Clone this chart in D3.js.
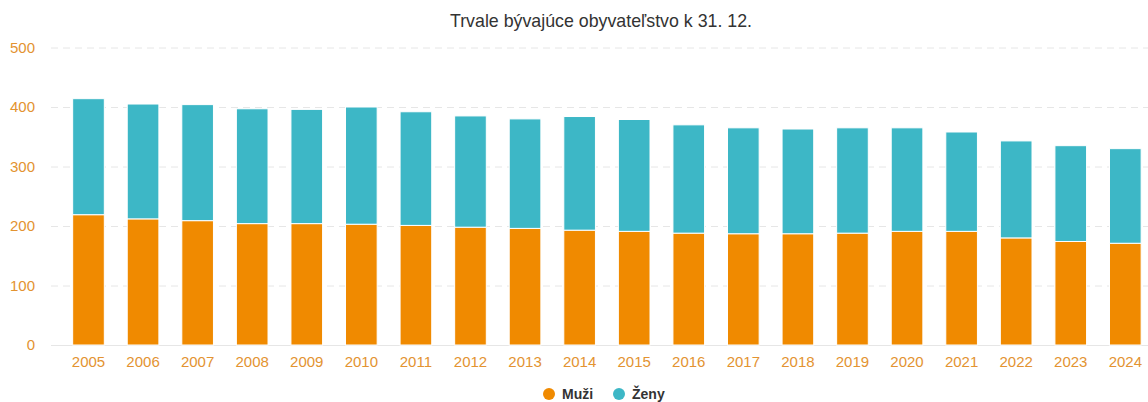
<!DOCTYPE html>
<html>
<head>
<meta charset="utf-8">
<script src="https://cdn.jsdelivr.net/npm/d3@7"></script>
<style>
  body { margin: 0; background: #fff; }
  svg { font-family: "Liberation Sans", Arial, sans-serif; }
</style>
</head>
<body>
<div id="chart-container"></div>
<script>
var years = ["2005", "2006", "2007", "2008", "2009", "2010", "2011", "2012", "2013", "2014",
             "2015", "2016", "2017", "2018", "2019", "2020", "2021", "2022", "2023", "2024"];
var muzi = [219, 212, 209, 204, 204, 203, 201, 198, 196, 193, 191, 188, 187, 187, 188, 191, 191, 180, 174, 171];
var zeny = [195, 193, 195, 193, 192, 197, 191, 187, 184, 191, 188, 182, 178, 176, 177, 174, 167, 163, 161, 159];
var yTicks = [0, 100, 200, 300, 400, 500];
var seriesNames = ["Muži", "Ženy"];
var colors = ["#f08a00", "#3db7c6"];

var width = 1148, height = 402;
var svg = d3.select("#chart-container").append("svg")
    .attr("width", width)
    .attr("height", height);

var y = d3.scaleLinear().domain([0, 500]).range([345, 47.5]);
var x = d3.scaleBand().domain(years).range([61.2, 1152.6]).paddingInner(0.42).paddingOuter(0.21);

// title
svg.append("text")
  .attr("x", 601)
  .attr("y", 27)
  .attr("text-anchor", "middle")
  .attr("fill", "#333")
  .style("font-size", "17.8px")
  .text("Trvale bývajúce obyvateľstvo k 31. 12.");

// grid
var yAxis = d3.axisLeft(y).tickValues(yTicks).tickSize(-(width - 51)).tickPadding(16);
var gy = svg.append("g").attr("transform", "translate(51,0)").call(yAxis);
gy.select(".domain").remove();
gy.selectAll(".tick line")
  .attr("stroke", "#e6e6e6")
  .attr("stroke-dasharray", function(d) { return d === 0 ? null : "7,5"; });
gy.selectAll(".tick text")
  .attr("fill", "#e39331")
  .attr("x", -16)
  .style("font-size", "15px");

// stacked bars
var rows = years.map(function(yr, i) { return { year: yr, "Muži": muzi[i], "Ženy": zeny[i] }; });
var stack = d3.stack().keys(seriesNames)(rows);

svg.append("g").selectAll("g")
  .data(stack)
  .enter().append("g")
  .attr("fill", function(d, i) { return colors[i]; })
  .selectAll("rect")
  .data(function(d) { return d; })
  .enter().append("rect")
  .attr("x", function(d) { return x(d.data.year); })
  .attr("y", function(d) { return y(d[1]); })
  .attr("width", x.bandwidth())
  .attr("height", function(d) { return y(d[0]) - y(d[1]); })
  .attr("stroke", "#fff")
  .attr("stroke-width", 1);

// x axis
var xAxis = d3.axisBottom(x).tickSize(0).tickPadding(11);
var gx = svg.append("g").attr("transform", "translate(0,345)").call(xAxis);
gx.select(".domain").remove();
gx.selectAll(".tick text")
  .attr("fill", "#e39331")
  .style("font-size", "15px");

// legend
var legendX = [549, 619];
var legend = svg.append("g").selectAll("g")
  .data(seriesNames)
  .enter().append("g")
  .attr("transform", function(d, i) { return "translate(" + legendX[i] + ",394)"; });

legend.append("circle")
  .attr("r", 6)
  .attr("fill", function(d, i) { return colors[i]; });

legend.append("text")
  .attr("x", 13)
  .attr("dy", "0.35em")
  .attr("fill", "#333")
  .style("font-size", "14px")
  .style("font-weight", "bold")
  .text(function(d) { return d; });
</script>
</body>
</html>
